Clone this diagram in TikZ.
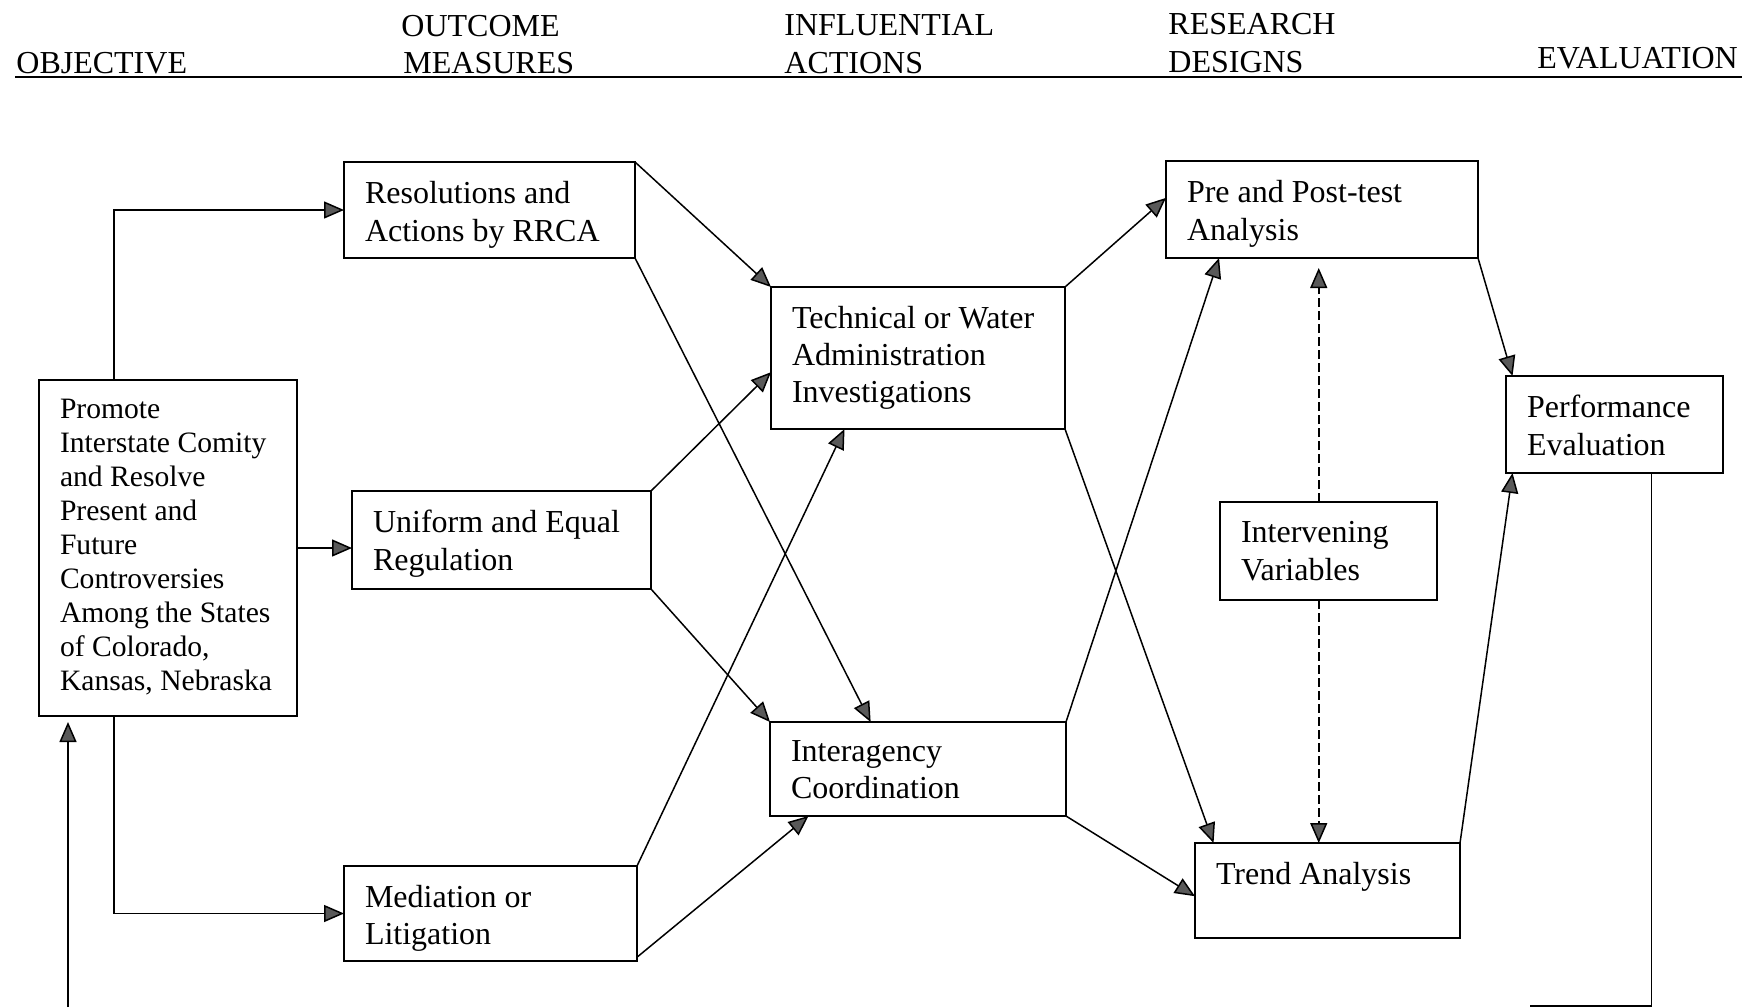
\documentclass[tikz,border=0pt]{standalone}
\usepackage{fontspec}
\setmainfont{Liberation Serif}
\usetikzlibrary{arrows.meta,calc}

% width, height, font size, line spacing, text: top-aligned box content
\newcommand\boxtxt[5]{%
  \parbox[c][#2][t]{#1}{\fontsize{#3}{#4}\selectfont\raggedright\vspace*{9.5pt}#5}}

\tikzset{
  box/.style={draw, line width=1pt, anchor=north west, inner xsep=10.5pt,
    inner ysep=0pt, outer sep=0pt},
  hdr/.style={anchor=base west, inner sep=0pt, font=\fontsize{16}{19}\selectfont},
  link/.style={line width=0.75pt},
  arr/.style={link, -{Triangle[length=10pt,width=8.5pt,fill=black!65]}},
  dash link/.style={arr, dash pattern=on 4.5pt off 2pt},
}

\begin{document}
\begin{tikzpicture}[x=0.5pt, y=-0.5pt]
\path[use as bounding box] (0,0) rectangle (1749,1007);

% column headings
\node[hdr] (hObj)  at (16,73)   {OBJECTIVE};
\node[hdr] (hOutA) at (401,36)  {OUTCOME};
\node[hdr] (hOutB) at (403,73)  {MEASURES};
\node[hdr] (hInfA) at (784,35)  {INFLUENTIAL};
\node[hdr] (hInfB) at (784,73)  {ACTIONS};
\node[hdr] (hResA) at (1168,34) {RESEARCH};
\node[hdr] (hResB) at (1168,72) {DESIGNS};
\node[hdr] (hEval) at (1537,68) {EVALUATION};
\coordinate (ulL) at (15,77);
\coordinate (ulR) at (1742,77);
\draw[line width=1pt] (ulL) -- (ulR);

% boxes
\node[box] (obj) at (39,380) {\boxtxt{108pt}{168pt}{14.8pt}{17pt}{Promote\\Interstate Comity\\and Resolve\\Present and\\Future\\Controversies\\Among the States\\of Colorado,\\Kansas, Nebraska}};
\node[box] (res) at (344,162) {\boxtxt{124.5pt}{48pt}{16pt}{19pt}{Resolutions and\\Actions by RRCA}};
\node[box] (uni) at (352,491) {\boxtxt{128.5pt}{49pt}{16pt}{19pt}{Uniform and Equal\\Regulation}};
\node[box] (med) at (344,866) {\boxtxt{125.5pt}{47.5pt}{16pt}{18.5pt}{Mediation or\\Litigation}};
\node[box] (tech) at (771,287) {\boxtxt{126pt}{71pt}{16pt}{18.5pt}{Technical or Water\\Administration\\Investigations}};
\node[box] (inter) at (770,722) {\boxtxt{127pt}{47pt}{16pt}{18.5pt}{Interagency\\Coordination}};
\node[box] (pre) at (1166,161) {\boxtxt{135pt}{48.5pt}{16pt}{19pt}{Pre and Post-test\\Analysis}};
\node[box] (intv) at (1220,502) {\boxtxt{87.5pt}{49pt}{16pt}{19pt}{Intervening\\Variables}};
\node[box] (trend) at (1195,843) {\boxtxt{111.5pt}{47.5pt}{16pt}{19pt}{Trend Analysis}};
\node[box] (perf) at (1506,376) {\boxtxt{87.5pt}{48.5pt}{16pt}{19pt}{Performance\\Evaluation}};

% objective to outcome measures
\draw[arr] ($(obj.north west)!0.29!(obj.north east)$) |- (res.west);
\draw[arr] (obj.east) -- (obj.east -| uni.west);
\draw[arr] ($(obj.south west)!0.29!(obj.south east)$) |- (med.west);

% outcome measures to influential actions
\draw[arr] (res.north east) -- (tech.north west);
\draw[arr] (res.south east) -- ($(inter.north west)!0.34!(inter.north east)$);
\draw[arr] (uni.north east) -- ($(tech.north west)!0.6!(tech.south west)$);
\draw[arr] (uni.south east) -- (inter.north west);
\draw[arr] (med.north east) -- ($(tech.south west)!0.25!(tech.south east)$);
\draw[arr] ($(med.north east)!0.96!(med.south east)$) -- ($(inter.south west)!0.13!(inter.south east)$);

% influential actions to research designs
\draw[arr] (tech.north east) -- ($(pre.north west)!0.38!(pre.south west)$);
\draw[arr] (tech.south east) -- ($(trend.north west)!0.07!(trend.north east)$);
\draw[arr] (inter.north east) -- ($(pre.south west)!0.17!(pre.south east)$);
\draw[arr] (inter.south east) -- ($(trend.north west)!0.56!(trend.south west)$);

% intervening variables
\coordinate (ivTop) at ($(intv.north west)!0.455!(intv.north east)$);
\coordinate (ivBot) at ($(intv.south west)!0.455!(intv.south east)$);
\draw[dash link, shorten >=5pt] (ivTop) -- (ivTop |- pre.south);
\draw[dash link] (ivBot) -- (ivBot |- trend.north);

% research designs to evaluation
\draw[arr] (pre.south east) -- ($(perf.north west)!0.03!(perf.north east)$);
\draw[arr] (trend.north east) -- ($(perf.south west)!0.03!(perf.south east)$);

% feedback loop
\coordinate (fbDown) at ($(perf.south west)!0.67!(perf.south east)$);
\coordinate (fbCorner) at (fbDown |- 0,1006);
\coordinate (fbEnd) at (1530,1006);
\draw[link] (fbDown) -- (fbCorner) -- (fbEnd);
\coordinate (fbUp) at (68,1007);
\draw[arr, shorten >=3pt] (fbUp) -- (fbUp |- obj.south);
\end{tikzpicture}
\end{document}
